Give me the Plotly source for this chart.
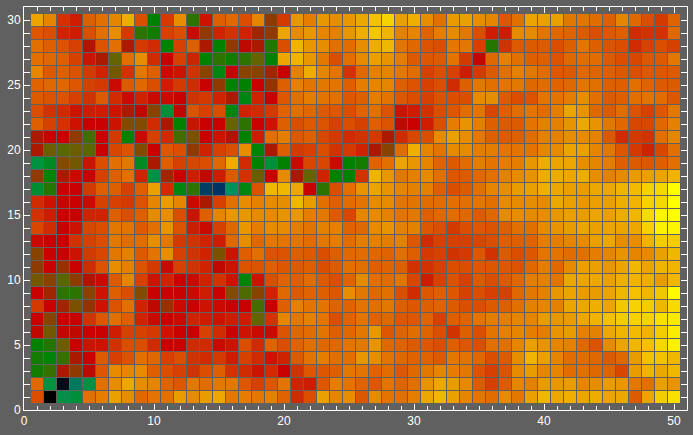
import plotly.graph_objects as go

# Row order: y = 30 (top) down to y = 1 (bottom)
y_values = list(range(30, 0, -1))
x_values = list(range(1, 51))

# Columns x = 1..16
left_cols = [
 [80,73,56,53,64,68,73,82,60,28,57,75,33,52,64,66],
 [62,60,54,53,60,68,75,57,33,30,58,60,51,44,54,56],
 [68,64,61,58,48,61,68,47,57,55,28,58,64,47,28,44],
 [68,66,64,58,52,47,38,68,75,55,50,58,54,28,33,30],
 [73,63,64,61,57,54,40,56,70,64,51,52,56,43,26,50],
 [65,66,66,62,58,57,51,63,66,60,53,57,55,50,44,28],
 [63,61,61,58,56,63,55,51,54,51,51,50,56,57,54,47],
 [60,56,55,52,53,53,52,47,49,43,21,49,61,58,60,26],
 [64,58,56,52,50,50,52,42,42,55,47,28,52,50,50,38],
 [47,50,50,44,35,50,57,28,51,58,55,35,41,50,52,48],
 [47,39,37,39,37,50,59,61,42,50,62,60,44,54,58,60],
 [20,24,42,40,52,60,68,70,24,47,64,58,59,60,66,82],
 [44,27,47,51,50,58,64,68,54,19,46,50,53,49,53,63],
 [22,32,50,50,57,64,64,58,64,79,55,26,33,9,8,16],
 [55,52,49,50,51,58,58,57,61,73,78,73,51,47,58,68],
 [56,53,50,50,54,54,64,60,64,74,75,60,52,64,73,77],
 [59,55,50,52,59,60,70,69,63,68,76,61,53,51,58,66],
 [51,50,50,56,58,60,70,67,67,75,70,57,56,54,53,66],
 [43,50,50,52,57,59,70,72,63,69,75,58,56,54,41,52],
 [44,50,45,50,55,61,75,72,61,57,51,58,56,54,49,52],
 [40,43,37,44,48,51,63,73,58,52,54,50,51,54,56,52],
 [50,46,33,33,43,52,64,60,42,50,50,50,51,53,50,42],
 [57,50,46,41,45,52,61,68,54,49,45,51,50,52,51,50],
 [50,43,50,50,56,62,68,64,54,51,50,51,54,53,52,53],
 [49,40,49,49,50,50,53,58,58,57,52,50,50,58,55,50],
 [28,32,39,50,52,52,56,60,60,55,50,50,55,55,51,52],
 [30,27,34,47,50,63,58,61,68,66,58,60,56,55,57,53],
 [30,34,47,44,49,62,74,73,74,64,60,58,56,60,64,56],
 [66,20,2,14,19,68,75,81,75,73,65,62,70,67,70,70],
 [60,0,19,21,68,71,79,75,66,69,68,78,74,78,81,70],
]

# Columns x = 17..33
mid_cols = [
 [60,73,44,57,77,71,77,75,77,81,87,90,79,83,75,68,78],
 [54,46,44,80,74,77,73,72,77,83,88,84,72,73,65,71,74],
 [49,47,32,60,84,77,75,68,67,75,82,85,69,66,61,60,70],
 [33,38,28,81,84,77,70,60,68,74,79,76,71,63,62,63,69],
 [43,43,46,50,72,82,73,69,56,66,72,73,70,67,58,60,58],
 [28,50,45,64,72,69,70,69,64,71,73,73,64,61,58,60,55],
 [26,54,50,62,68,71,69,68,62,64,71,69,62,60,58,61,60],
 [54,55,57,65,68,66,63,62,60,65,68,61,52,53,56,60,62],
 [33,50,52,64,60,63,61,58,60,58,64,61,49,50,53,60,71],
 [28,53,68,71,62,64,59,57,55,56,57,47,55,59,60,74,79],
 [75,27,47,64,57,58,60,56,57,54,47,43,67,83,73,69,74],
 [55,28,21,28,51,59,59,51,28,30,65,68,80,77,73,65,63],
 [56,39,50,74,47,38,54,28,28,56,84,77,70,72,74,68,62],
 [26,61,85,85,81,50,33,60,68,76,80,76,73,72,72,64,60],
 [75,72,74,75,85,78,68,64,67,69,74,74,69,69,67,67,68],
 [77,74,74,76,77,71,70,63,59,73,74,72,69,70,64,66,67],
 [77,71,74,74,71,69,72,72,65,66,74,76,72,72,62,60,57],
 [75,66,70,69,69,67,70,71,67,71,72,71,72,62,55,58,58],
 [64,68,61,61,64,63,60,64,66,67,66,65,68,64,57,58,56],
 [61,61,64,62,63,64,60,63,68,68,64,65,64,56,56,58,60],
 [27,52,60,65,64,67,63,60,65,74,68,67,69,59,53,58,61],
 [36,43,54,66,63,65,64,62,75,70,66,68,60,55,62,64,62],
 [50,35,50,64,72,69,69,65,65,69,68,70,64,62,64,65,63],
 [53,38,56,73,70,72,69,60,65,69,65,66,62,62,65,58,64],
 [52,51,51,61,66,67,69,64,66,70,77,62,65,67,65,60,56],
 [60,55,65,60,65,68,66,66,69,70,76,66,65,63,62,60,64],
 [58,55,52,54,63,69,71,68,68,77,75,69,66,65,65,63,70],
 [55,52,55,50,56,62,62,64,70,69,65,67,62,66,70,73,71],
 [62,58,62,69,54,53,62,71,69,65,62,69,65,68,76,81,78],
 [71,70,72,65,55,60,79,73,75,62,74,69,68,71,81,85,79],
]

# Columns x = 34..50
right_cols = [
 [79,75,73,62,68,80,79,79,70,69,67,64,73,66,60,57,65],
 [70,60,53,53,74,74,69,66,65,63,60,62,64,55,56,56,66],
 [70,58,32,56,63,63,63,60,64,69,64,61,60,55,58,60,58],
 [57,49,66,72,68,64,64,61,66,67,67,63,60,59,62,63,70],
 [53,57,63,68,72,70,67,62,63,66,65,64,62,60,62,62,63],
 [64,70,68,69,70,66,67,65,66,69,68,64,64,68,65,63,63],
 [60,74,75,63,60,61,69,69,71,75,68,63,64,68,69,67,62],
 [67,69,59,64,67,69,67,71,80,76,66,63,67,61,58,62,70],
 [76,71,64,63,63,69,72,72,76,81,76,70,66,59,59,66,72],
 [75,70,64,63,64,67,72,72,75,74,72,62,55,57,56,68,73],
 [74,71,71,69,69,69,73,74,80,79,73,70,62,57,54,59,68],
 [67,71,69,71,71,77,82,80,81,75,73,71,64,63,62,64,68],
 [63,66,68,72,74,76,82,82,81,82,75,72,74,78,79,80,84],
 [63,68,73,75,78,79,83,81,79,78,81,81,84,86,90,91,100],
 [68,69,68,74,74,75,74,81,79,77,79,79,83,84,90,91,100],
 [66,63,66,74,75,74,75,77,79,78,80,79,82,85,92,98,100],
 [60,62,61,64,68,68,74,76,78,80,79,80,80,81,90,97,98],
 [58,59,60,64,64,65,71,71,73,74,79,81,75,75,84,89,89],
 [57,62,56,63,60,62,69,69,67,68,71,73,76,73,74,79,85],
 [60,62,62,62,61,66,71,66,74,79,79,77,80,85,80,84,84],
 [58,63,60,63,66,71,72,69,81,80,81,79,83,84,83,78,85],
 [58,60,58,58,66,70,72,77,80,78,78,80,85,87,85,88,99],
 [60,60,63,64,68,72,73,72,80,81,83,80,88,90,89,85,92],
 [65,69,71,71,73,73,78,77,78,81,84,87,89,90,90,93,95],
 [64,60,69,72,73,71,71,76,78,72,72,81,84,86,84,89,96],
 [62,60,68,68,73,79,76,73,72,66,61,74,80,85,87,91,97],
 [69,66,60,63,75,84,79,73,67,67,66,63,66,78,87,87,85],
 [70,61,58,61,74,78,73,73,67,68,66,65,59,78,84,81,85],
 [74,63,58,63,73,72,78,77,78,73,75,78,77,70,68,79,76],
 [73,69,67,74,70,79,85,81,83,80,82,80,81,63,80,89,93],
]

x_major_ticks = [0, 10, 20, 30, 40, 50]
y_major_ticks = [0, 5, 10, 15, 20, 25, 30]

z = [a + b + c for a, b, c in zip(left_cols, mid_cols, right_cols)]

BG = "#606060"
colorscale = [
    [0.00, "rgb(0,0,0)"],
    [0.08, "rgb(0,50,100)"],
    [0.16, "rgb(0,145,90)"],
    [0.20, "rgb(0,145,65)"],
    [0.28, "rgb(0,130,0)"],
    [0.33, "rgb(45,115,0)"],
    [0.38, "rgb(100,100,0)"],
    [0.42, "rgb(130,75,0)"],
    [0.45, "rgb(150,50,0)"],
    [0.47, "rgb(170,25,0)"],
    [0.50, "rgb(200,0,0)"],
    [0.53, "rgb(205,28,0)"],
    [0.56, "rgb(210,50,0)"],
    [0.60, "rgb(218,78,0)"],
    [0.64, "rgb(222,95,0)"],
    [0.68, "rgb(226,112,0)"],
    [0.73, "rgb(229,133,0)"],
    [0.79, "rgb(234,160,0)"],
    [0.85, "rgb(240,183,0)"],
    [0.90, "rgb(245,210,0)"],
    [1.00, "rgb(255,255,0)"],
]

fig = go.Figure(go.Heatmap(
    x=x_values, y=y_values, z=z, zmin=0, zmax=100,
    colorscale=colorscale, showscale=False, hoverinfo="skip",
))

# Cell separators, one pixel wide, on the half-integer boundaries
for v in range(0, 51):
    fig.add_shape(type="line", x0=v + 0.5, x1=v + 0.5, y0=0.5, y1=30.5,
                  line=dict(color=BG, width=1), layer="above")
for v in range(0, 31):
    fig.add_shape(type="line", x0=0.5, x1=50.5, y0=v + 0.5, y1=v + 0.5,
                  line=dict(color=BG, width=1), layer="above")

axis_common = dict(
    showgrid=False, zeroline=False, showline=True, linecolor="white", linewidth=1,
    mirror="allticks", ticks="inside", tickcolor="white", ticklen=7, tickwidth=1,
    tickfont=dict(family="Liberation Sans", size=12, color="white"),
)
fig.update_xaxes(range=[0, 51], tickmode="array", tickvals=x_major_ticks,
                 minor=dict(dtick=1, ticks="inside", ticklen=4, tickcolor="white", tickwidth=1, showgrid=False),
                 **axis_common)
fig.update_yaxes(range=[0, 31], tickmode="array", tickvals=y_major_ticks,
                 minor=dict(dtick=1, ticks="inside", ticklen=7, tickcolor="white", tickwidth=1, showgrid=False),
                 **axis_common)
fig.update_layout(
    width=693, height=435,
    margin=dict(l=24, r=6, t=7, b=25, pad=0),
    paper_bgcolor=BG, plot_bgcolor=BG,
)
fig.write_html(
    "out.html",
    config={"displayModeBar": False},
    post_script="document.body.style.margin='0';document.body.style.background='#606060';",
)
